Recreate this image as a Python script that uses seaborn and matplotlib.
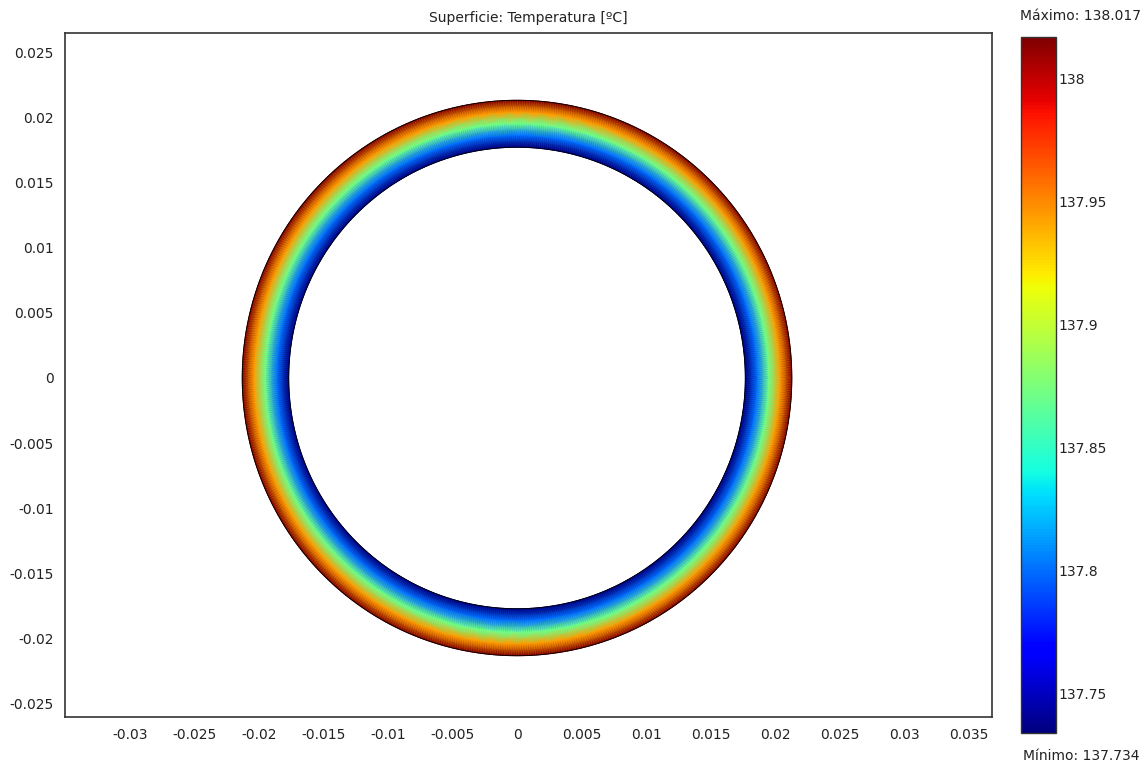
import numpy as np
import matplotlib
matplotlib.use("Agg")
import matplotlib.pyplot as plt
import seaborn as sns

# ---- data ----
radii = [0.0177, 0.0186, 0.0195, 0.0204, 0.0213]          # m, inner -> outer
temps = [137.734, 137.80, 137.87, 137.945, 138.017]      # degC at those radii
t_min, t_max = 137.734, 138.017
x_ticks = [-0.03, -0.025, -0.02, -0.015, -0.01, -0.005, 0, 0.005, 0.01, 0.015, 0.02, 0.025, 0.03, 0.035]
x_labels = ["-0.03", "-0.025", "-0.02", "-0.015", "-0.01", "-0.005", "0", "0.005", "0.01", "0.015", "0.02", "0.025", "0.03", "0.035"]
y_ticks = [-0.025, -0.02, -0.015, -0.01, -0.005, 0, 0.005, 0.01, 0.015, 0.02, 0.025]
y_labels = ["-0.025", "-0.02", "-0.015", "-0.01", "-0.005", "0", "0.005", "0.01", "0.015", "0.02", "0.025"]
cb_ticks = [137.75, 137.8, 137.85, 137.9, 137.95, 138.0]
cb_labels = ["137.75", "137.8", "137.85", "137.9", "137.95", "138"]

sns.set_theme(style="white")
plt.rcParams['font.family'] = ['DejaVu Sans']
FS = 10
TXT = "#222222"

fig = plt.figure(figsize=(11.48, 7.69), dpi=100)
ax = fig.add_axes([65/1148, 1-717/769, (992-65)/1148, (717-33)/769])
cax = fig.add_axes([1021/1148, 1-733/769, 35/1148, (733-37)/769])

theta = np.linspace(0, 2*np.pi, 721)
R, TH = np.meshgrid(np.array(radii), theta)
X = R*np.cos(TH)
Y = R*np.sin(TH)
C = np.tile(np.array(temps), (len(theta), 1))
mesh = ax.pcolormesh(X, Y, C, cmap="jet", vmin=t_min, vmax=t_max,
                     shading="gouraud", antialiased=False, rasterized=True)
for r in (radii[0], radii[-1]):
    ax.plot(r*np.cos(theta), r*np.sin(theta), color="black", lw=0.6)

ax.set_xlim(-0.03504, 0.03682)
ax.set_ylim(-0.0260, 0.02646)
ax.set_xticks(x_ticks)
ax.set_xticklabels(x_labels)
ax.set_yticks(y_ticks)
ax.set_yticklabels(y_labels)
ax.tick_params(axis="both", length=0, labelsize=FS, colors=TXT, pad=8)
for s in ax.spines.values():
    s.set_color("#333333")
    s.set_linewidth(1.2)
ax.set_title("Superficie: Temperatura [ºC]", fontsize=FS, color=TXT, pad=8)

cb = fig.colorbar(mesh, cax=cax)
cb.set_ticks(cb_ticks)
cb.set_ticklabels(cb_labels)
cax.tick_params(axis="y", direction="in", left=True, right=True, length=5,
                width=1, color="#333333", labelsize=FS, labelcolor=TXT, pad=2)
cb.outline.set_edgecolor("#333333")
cb.outline.set_linewidth(1)

fig.text(1081/1148, 1-16/769, "Máximo: 138.017", ha="center", va="center",
         fontsize=FS, color=TXT)
fig.text(1081/1148, 1-756/769, "Mínimo: 137.734", ha="center", va="center",
         fontsize=FS, color=TXT)

fig.savefig("out.png", dpi=100, facecolor="white")
